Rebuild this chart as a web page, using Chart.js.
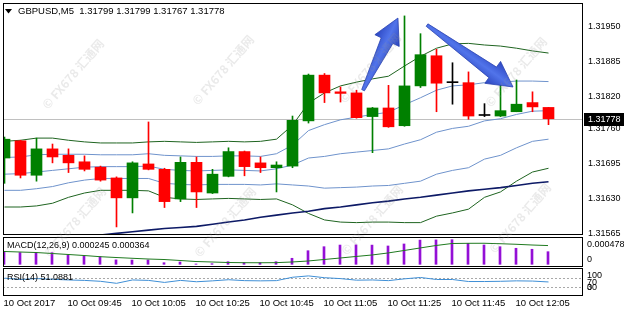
<!DOCTYPE html>
<html>
<head>
<meta charset="utf-8">
<script src="https://cdn.jsdelivr.net/npm/chart.js"></script>
<style>
  html, body { margin:0; padding:0; background:#ffffff; }
  #wrap { position:relative; width:624px; height:310px; overflow:hidden; background:#ffffff; }
  #wrap canvas { position:absolute; left:0; }
</style>
</head>
<body>
<div id="wrap">
  <canvas id="cPrice" width="624" height="236" style="top:0px;width:624px;height:236px"></canvas>
  <canvas id="cMacd" width="624" height="31" style="top:236px;width:624px;height:31px"></canvas>
  <canvas id="cRsi" width="624" height="43" style="top:267px;width:624px;height:43px"></canvas>
  <canvas id="cMark" width="624" height="310" style="top:0px;width:624px;height:310px;pointer-events:none"></canvas>
</div>
<script>
// ---------------- DATA ----------------
const symbol = 'GBPUSD,M5';
const times = ['09:25','09:30','09:35','09:40','09:45','09:50','09:55','10:00','10:05','10:10','10:15','10:20','10:25','10:30','10:35','10:40','10:45','10:50','10:55','11:00','11:05','11:10','11:15','11:20','11:25','11:30','11:35','11:40','11:45','11:50','11:55','12:00','12:05','12:10','12:15'];

const open  = [1.31705,1.31737,1.31673,1.31722,1.31710,1.31698,1.31688,1.31668,1.31631,1.31694,1.31684,1.31629,1.31697,1.31640,1.31671,1.31717,1.31696,1.31687,1.31690,1.31774,1.31859,1.31828,1.31826,1.31782,1.31798,1.31765,1.31839,1.31895,1.31845,1.31845,1.31784,1.31783,1.31791,1.31808,1.31799];
const high  = [1.31744,1.31738,1.31742,1.31731,1.31722,1.31709,1.31690,1.31670,1.31698,1.31772,1.31686,1.31707,1.31707,1.31684,1.31724,1.31718,1.31707,1.31698,1.31783,1.31861,1.31862,1.31837,1.31831,1.31799,1.31840,1.31969,1.31936,1.31907,1.31882,1.31865,1.31806,1.31840,1.31850,1.31828,1.31799];
const low   = [1.31658,1.31668,1.31662,1.31696,1.31678,1.31681,1.31662,1.31577,1.31603,1.31683,1.31613,1.31624,1.31613,1.31639,1.31670,1.31672,1.31678,1.31642,1.31687,1.31770,1.31808,1.31809,1.31779,1.31715,1.31762,1.31764,1.31836,1.31791,1.31805,1.31777,1.31782,1.31782,1.31791,1.31791,1.31767];
const close = [1.31740,1.31673,1.31722,1.31707,1.31696,1.31684,1.31664,1.31631,1.31696,1.31684,1.31624,1.31697,1.31642,1.31675,1.31717,1.31689,1.31687,1.31692,1.31775,1.31859,1.31826,1.31825,1.31780,1.31798,1.31763,1.31839,1.31897,1.31844,1.31845,1.31783,1.31784,1.31793,1.31805,1.31800,1.31778];

// Bollinger-type bands (outer, inner, middle) and long moving average
const bandUpperOuter = [1.31736,1.31738,1.31742,1.31742,1.31738,1.31735,1.31733,1.31733,1.31733,1.31735,1.31736,1.31735,1.31734,1.31735,1.31736,1.31735,1.31736,1.31740,1.31766,1.31807,1.31826,1.31839,1.31846,1.31852,1.31857,1.31876,1.31894,1.31909,1.31917,1.31918,1.31915,1.31913,1.31909,1.31904,1.31900];
const bandUpperInner = [1.31706,1.31707,1.31711,1.31712,1.31712,1.31712,1.31711,1.31711,1.31711,1.31713,1.31710,1.31709,1.31708,1.31708,1.31709,1.31709,1.31708,1.31713,1.31729,1.31756,1.31767,1.31776,1.31781,1.31786,1.31790,1.31804,1.31817,1.31831,1.31839,1.31841,1.31845,1.31846,1.31848,1.31848,1.31847];
const bandMiddle     = [1.31675,1.31676,1.31679,1.31682,1.31685,1.31688,1.31689,1.31689,1.31689,1.31690,1.31684,1.31682,1.31681,1.31682,1.31683,1.31682,1.31681,1.31685,1.31692,1.31705,1.31708,1.31713,1.31716,1.31719,1.31722,1.31731,1.31739,1.31753,1.31760,1.31764,1.31774,1.31778,1.31786,1.31792,1.31793];
const bandLowerInner = [1.31645,1.31645,1.31648,1.31652,1.31659,1.31664,1.31667,1.31667,1.31667,1.31667,1.31658,1.31656,1.31655,1.31656,1.31656,1.31656,1.31655,1.31657,1.31655,1.31653,1.31649,1.31650,1.31651,1.31653,1.31654,1.31658,1.31662,1.31675,1.31682,1.31687,1.31703,1.31710,1.31724,1.31736,1.31740];
const bandLowerOuter = [1.31614,1.31614,1.31616,1.31621,1.31632,1.31640,1.31645,1.31645,1.31645,1.31644,1.31632,1.31629,1.31628,1.31629,1.31630,1.31629,1.31628,1.31629,1.31618,1.31602,1.31590,1.31586,1.31585,1.31586,1.31586,1.31585,1.31585,1.31597,1.31603,1.31610,1.31632,1.31642,1.31662,1.31679,1.31686];
const maLong         = [1.31545,1.31548,1.31551,1.31554,1.31556,1.31559,1.31562,1.31565,1.31568,1.31571,1.31574,1.31576,1.31578,1.31582,1.31586,1.31590,1.31595,1.31599,1.31603,1.31606,1.31611,1.31614,1.31618,1.31622,1.31625,1.31629,1.31632,1.31636,1.31640,1.31644,1.31647,1.31650,1.31654,1.31658,1.31661];

// MACD(12,26,9)
const macdMain   = [0.000245,0.000228,0.000224,0.000226,0.000181,0.000161,0.000148,0.000086,0.000083,0.000085,0.000031,0.000045,0.000006,0.000012,0.000051,0.000031,0.000031,0.000051,0.000117,0.000264,0.000342,0.000374,0.000377,0.000373,0.000356,0.000395,0.000470,0.000474,0.000478,0.000408,0.000375,0.000342,0.000311,0.000292,0.000245];
const macdSignal = [0.000249,0.000239,0.000229,0.000210,0.000191,0.000171,0.000148,0.000132,0.000117,0.000103,0.000093,0.000074,0.000054,0.000045,0.000035,0.000031,0.000030,0.000032,0.000045,0.000064,0.000093,0.000122,0.000152,0.000181,0.000220,0.000268,0.000317,0.000365,0.000404,0.000408,0.000409,0.000400,0.000389,0.000375,0.000364];

// RSI(14)
const rsi = [68,62,66,63,60,58,54,45,60,58,49,58,52,56,61,57,56,57,72,78,70,66,59,60,57,65,71,62,62,53,53,54,56,55,51.0881];
const rsiLevels = [70, 30];

// axis tick values / labels
const priceTicks = [1.31565,1.31630,1.31695,1.31760,1.31820,1.31885,1.31950];
const macdTickValues = [0.000478, 0];
const macdTickLabels = ['0.000478', '0'];
const rsiTickValues = [100, 70, 30, 0];
const rsiTickLabels = ['100', '70', '30', '0'];
const xTickIdx = [0,4,8,12,16,20,24,28,32];
const xTickLabels = ['10 Oct 2017','10 Oct 09:45','10 Oct 10:05','10 Oct 10:25','10 Oct 10:45','10 Oct 11:05','10 Oct 11:25','10 Oct 11:45','10 Oct 12:05'];

// annotation arrows (candle index, price)
const arrows = [
  { from: [22.41, 1.31831], to: [24.59, 1.31965] },
  { from: [26.41, 1.31952], to: [31.78, 1.31837] }
];
const watermarkText = '© FX678 汇通网';

// ---------------- STYLE ----------------
const FONT = '"Liberation Sans", Arial, sans-serif';
const GREEN = '#008000', RED = '#ff0000', DOJI = '#000000';
Chart.defaults.font.family = FONT;
Chart.defaults.color = '#000';

const N = close.length;
const X_MIN = -0.09375, X_MAX = X_MIN + 36.25;
const P_MIN = 1.31562, P_MAX = 1.31993;

const candleColor = i => close[i] > open[i] ? GREEN : (close[i] < open[i] ? RED : DOJI);
const pts = arr => arr.map((v, i) => ({ x: i, y: v }));

function lineDS(arr, color, width, order) {
  return { type: 'line', data: pts(arr), borderColor: color, borderWidth: width,
    pointRadius: 0, tension: 0, fill: false, order: order, clip: 0 };
}

function noPad(s) { s.paddingTop = 0; s.paddingBottom = 0; s.paddingLeft = 0; s.paddingRight = 0; }

function hiddenX(min) {
  return { type: 'linear', min: min, max: min + 36.25, display: false, offset: false, grid: { offset: false } };
}

function drawBorder(ctx, top, h) {
  ctx.save();
  ctx.strokeStyle = '#000';
  ctx.lineWidth = 1;
  ctx.strokeRect(3.5, top + 0.5, 579, h);
  ctx.restore();
}

function drawSideLabels(chart, values, labels, clampOffset) {
  const ctx = chart.ctx, y = chart.scales.y, area = chart.chartArea;
  ctx.save();
  ctx.font = '9px ' + FONT;
  ctx.fillStyle = '#000';
  ctx.textAlign = 'left';
  ctx.textBaseline = 'top';
  values.forEach((v, k) => {
    let py = y.getPixelForValue(v);
    py = Math.min(py, area.bottom - clampOffset);
    ctx.fillText(labels[k], 587, py);
  });
  ctx.restore();
}

function drawArrow(ctx, x0, y0, x1, y1) {
  const dx = x1 - x0, dy = y1 - y0, L = Math.hypot(dx, dy);
  const ux = dx / L, uy = dy / L, nx = -uy, ny = ux;
  const hl = 25, hw = 13.5, w0 = 1.5, w1 = 6.5;
  const bx = x1 - ux * hl, by = y1 - uy * hl;
  const p = [[x0 + nx * w0, y0 + ny * w0], [bx + nx * w1, by + ny * w1], [bx + nx * hw, by + ny * hw], [x1, y1],
             [bx - nx * hw, by - ny * hw], [bx - nx * w1, by - ny * w1], [x0 - nx * w0, y0 - ny * w0]];
  const g = ctx.createLinearGradient(bx + nx * hw, by + ny * hw, bx - nx * hw, by - ny * hw);
  g.addColorStop(0, '#2a44bd');
  g.addColorStop(0.5, '#5174ea');
  g.addColorStop(1, '#2b46c2');
  ctx.beginPath();
  ctx.moveTo(p[0][0], p[0][1]);
  for (let k = 1; k < p.length; k++) ctx.lineTo(p[k][0], p[k][1]);
  ctx.closePath();
  ctx.fillStyle = g;
  ctx.fill();
  ctx.strokeStyle = '#2a42b0';
  ctx.lineWidth = 0.8;
  ctx.stroke();
}

// ---------------- PRICE PANEL ----------------
const pricePlugin = {
  id: 'pricePlugin',
  beforeDatasetsDraw(chart) {
    const ctx = chart.ctx, a = chart.chartArea, y = chart.scales.y;
    const py = Math.round(y.getPixelForValue(close[N - 1])) + 0.5;
    ctx.save();
    ctx.strokeStyle = '#c0c0c0';
    ctx.lineWidth = 1;
    ctx.beginPath(); ctx.moveTo(a.left, py); ctx.lineTo(a.right, py); ctx.stroke();
    ctx.restore();
  },
  afterDatasetsDraw(chart) {
    const ctx = chart.ctx, x = chart.scales.x, y = chart.scales.y;
    ctx.save();
    arrows.forEach(ar => {
      drawArrow(ctx, x.getPixelForValue(ar.from[0]), y.getPixelForValue(ar.from[1]),
                     x.getPixelForValue(ar.to[0]), y.getPixelForValue(ar.to[1]));
    });
    ctx.restore();
  },
  afterDraw(chart) {
    const ctx = chart.ctx, y = chart.scales.y;
    drawBorder(ctx, 3, 231);
    ctx.save();
    // title
    ctx.fillStyle = '#000';
    ctx.beginPath(); ctx.moveTo(5, 9); ctx.lineTo(12, 9); ctx.lineTo(8.5, 13.5); ctx.closePath(); ctx.fill();
    ctx.font = '9.5px ' + FONT;
    ctx.textBaseline = 'middle';
    ctx.textAlign = 'left';
    const t = symbol + '  ' + [open[N-1], high[N-1], low[N-1], close[N-1]].map(v => v.toFixed(5)).join(' ');
    ctx.fillText(t, 18, 11.5);
    // current price box on axis
    const py = y.getPixelForValue(close[N - 1]);
    ctx.fillStyle = '#000';
    ctx.fillRect(584, Math.round(py) - 6, 40, 13);
    ctx.fillStyle = '#fff';
    ctx.font = '9px ' + FONT;
    ctx.fillText(close[N - 1].toFixed(5), 588, Math.round(py) + 0.5);
    ctx.restore();
  }
};

new Chart(document.getElementById('cPrice'), {
  type: 'bar',
  data: {
    datasets: [
      { type: 'bar', data: open.map((o, i) => ({ x: i, y: [o, close[i]] })),
        backgroundColor: ctx => candleColor(ctx.dataIndex), borderWidth: 0,
        barThickness: 11, grouped: false, minBarLength: 1, order: 0, clip: 0 },
      { type: 'bar', data: low.map((l, i) => ({ x: i, y: [l, high[i]] })),
        backgroundColor: ctx => candleColor(ctx.dataIndex), borderWidth: 0,
        barThickness: 1, grouped: false, order: 1, clip: 0 },
      lineDS(bandUpperOuter, '#1f6420', 1, 5),
      lineDS(bandLowerOuter, '#1f6420', 1, 5),
      lineDS(bandUpperInner, '#6f93cc', 1, 5),
      lineDS(bandMiddle, '#6f93cc', 1, 5),
      lineDS(bandLowerInner, '#6f93cc', 1, 5),
      lineDS(maLong, '#0d1a66', 1.6, 4)
    ]
  },
  options: {
    responsive: false, animation: false, devicePixelRatio: 1, events: [],
    layout: { padding: { left: 3, top: 3, right: 0, bottom: 1 } },
    plugins: { legend: { display: false }, tooltip: { enabled: false } },
    scales: {
      x: hiddenX(X_MIN),
      y: {
        position: 'right', min: P_MIN, max: P_MAX,
        afterFit: s => { s.width = 41; noPad(s); },
        afterBuildTicks: s => { s.ticks = priceTicks.map(v => ({ value: v })); },
        ticks: { callback: v => Number(v).toFixed(5), padding: 5, autoSkip: false,
                 font: { size: 9, family: FONT }, color: '#000' },
        grid: { display: false, drawTicks: false },
        border: { display: false }
      }
    }
  },
  plugins: [pricePlugin]
});

// ---------------- MACD PANEL ----------------
const macdPlugin = {
  id: 'macdPlugin',
  afterDraw(chart) {
    const ctx = chart.ctx;
    drawBorder(ctx, 1, 29);
    ctx.save();
    ctx.font = '9px ' + FONT;
    ctx.fillStyle = '#000';
    ctx.textBaseline = 'middle';
    ctx.fillText('MACD(12,26,9) ' + macdMain[N-1].toFixed(6) + ' ' + macdSignal[N-1].toFixed(6), 7, 10);
    ctx.restore();
    drawSideLabels(chart, macdTickValues, macdTickLabels, 11);
  }
};

new Chart(document.getElementById('cMacd'), {
  type: 'bar',
  data: {
    datasets: [
      { type: 'bar', data: pts(macdMain), backgroundColor: '#9410d6', borderWidth: 0,
        barThickness: 2, grouped: false, order: 1, clip: 0 },
      lineDS(macdSignal, '#1f7a1f', 1, 0)
    ]
  },
  options: {
    responsive: false, animation: false, devicePixelRatio: 1, events: [],
    layout: { padding: { left: 3, top: 2, right: 0, bottom: 1 } },
    plugins: { legend: { display: false }, tooltip: { enabled: false } },
    scales: {
      x: hiddenX(-0.0625),
      y: { position: 'right', min: -0.000033, max: 0.000511,
           afterFit: s => { s.width = 41; noPad(s); },
           ticks: { display: false }, grid: { display: false, drawTicks: false }, border: { display: false } }
    }
  },
  plugins: [macdPlugin]
});

// ---------------- RSI PANEL ----------------
const rsiPlugin = {
  id: 'rsiPlugin',
  beforeDatasetsDraw(chart) {
    const ctx = chart.ctx, a = chart.chartArea, y = chart.scales.y;
    ctx.save();
    ctx.strokeStyle = '#a8a8a8';
    ctx.lineWidth = 1;
    ctx.setLineDash([2, 2]);
    rsiLevels.forEach(v => {
      const py = Math.round(y.getPixelForValue(v)) + 0.5;
      ctx.beginPath(); ctx.moveTo(a.left, py); ctx.lineTo(a.right, py); ctx.stroke();
    });
    ctx.restore();
  },
  afterDraw(chart) {
    const ctx = chart.ctx;
    drawBorder(ctx, 1, 27);
    ctx.save();
    ctx.font = '9px ' + FONT;
    ctx.fillStyle = '#000';
    ctx.textBaseline = 'middle';
    ctx.fillText('RSI(14) ' + rsi[N-1].toFixed(4), 7, 10.5);
    ctx.restore();
    drawSideLabels(chart, rsiTickValues, rsiTickLabels, 12);
  }
};

new Chart(document.getElementById('cRsi'), {
  type: 'line',
  data: { datasets: [ lineDS(rsi, '#3f8fd6', 1, 0) ] },
  options: {
    responsive: false, animation: false, devicePixelRatio: 1, events: [],
    layout: { padding: { left: 3, top: 2, right: 0, bottom: 0 } },
    plugins: { legend: { display: false }, tooltip: { enabled: false } },
    scales: {
      x: { type: 'linear', min: X_MIN, max: X_MAX, offset: false,
           afterFit: s => { s.height = 15; noPad(s); },
           afterBuildTicks: s => { s.ticks = xTickIdx.map(v => ({ value: v })); },
           ticks: { callback: (v, k) => xTickLabels[k], align: 'start', maxRotation: 0, minRotation: 0,
                    autoSkip: false, padding: 3, labelOffset: -1, font: { size: 9.5, family: FONT }, color: '#000' },
           grid: { display: false, drawTicks: false }, border: { display: false } },
      y: { position: 'right', min: -6.9, max: 108.7,
           afterFit: s => { s.width = 41; noPad(s); },
           ticks: { display: false }, grid: { display: false, drawTicks: false }, border: { display: false } }
    }
  },
  plugins: [rsiPlugin]
});

// ---------------- WATERMARK ----------------
(function () {
  const c = document.getElementById('cMark').getContext('2d');
  const centers = [[73,74],[223,70],[370,68],[516,72],[75,222],[225,222],[372,220],[520,218]];
  c.save();
  c.font = 'bold 12px "Noto Sans CJK SC", sans-serif';
  c.fillStyle = 'rgba(150,150,150,0.2)';
  c.textAlign = 'center';
  c.textBaseline = 'middle';
  centers.forEach(([cx, cy]) => {
    c.save();
    c.translate(cx, cy);
    c.rotate(-0.86);
    c.fillText(watermarkText, 0, 0);
    c.restore();
  });
  c.restore();
})();
</script>
</body>
</html>
